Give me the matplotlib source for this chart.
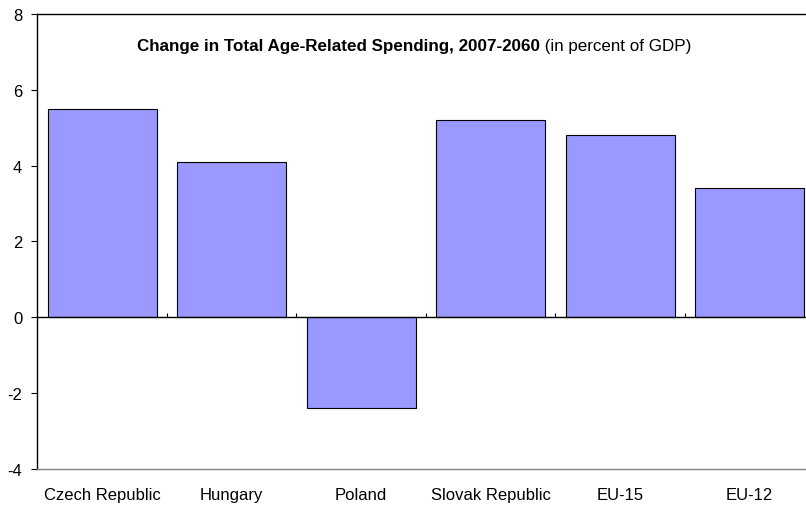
import numpy as np
import matplotlib.pyplot as plt
import matplotlib.transforms as mtransforms

countries = ["Czech Republic", "Hungary", "Poland", "Slovak Republic", "EU-15", "EU-12"]
change = [5.5, 4.1, -2.4, 5.2, 4.8, 3.4]
yticks = [-4, -2, 0, 2, 4, 6, 8]

plt.rcParams['font.family'] = ['Liberation Sans', 'DejaVu Sans']
plt.rc('font', size=12)

fig = plt.figure(figsize=(8.06, 5.06), dpi=100)
ax = fig.add_axes([0.0465, 0.0721, 0.964, 0.898])

x = np.arange(len(countries))
ax.bar(x, change, width=0.84, color='#9999ff', edgecolor='black', linewidth=0.8, zorder=2)

ax.set_xlim(-0.5, len(countries) - 0.5)
ax.set_ylim(-4, 8)
ax.set_yticks(yticks)
ax.set_yticklabels([str(v) for v in yticks])
ax.tick_params(axis='y', direction='out', length=4, width=0.8, pad=7)

ax.set_xticks(x)
ax.set_xticklabels(countries)
ax.tick_params(axis='x', length=0, pad=13)

# zero line with small upward ticks between categories
ax.axhline(0, color='black', linewidth=1.0, zorder=3)
trans = mtransforms.blended_transform_factory(ax.transData, ax.transAxes)
bounds = np.arange(0.5, len(countries) - 0.5, 1)
base = (0 - (-4)) / 12
ax.vlines(bounds, base, base + 4 / 454, transform=trans, color='black', linewidth=0.8, zorder=3)

for s in ['left', 'top']:
    ax.spines[s].set_color('black')
    ax.spines[s].set_linewidth(1.0)
ax.spines['bottom'].set_color('#808080')
ax.spines['bottom'].set_linewidth(1.0)
ax.spines['right'].set_visible(False)

# title inside the plot: bold part + normal part
t1 = ax.text(137, 506 - 47, "Change in Total Age-Related Spending, 2007-2060", fontweight='bold',
             fontsize=12.25, transform=mtransforms.IdentityTransform(), va='center', ha='left')
ax.annotate(" (in percent of GDP)", xy=(1, 0), xycoords=t1, va='bottom', ha='left', fontsize=12.25)

fig.savefig('out.png', dpi=100)
